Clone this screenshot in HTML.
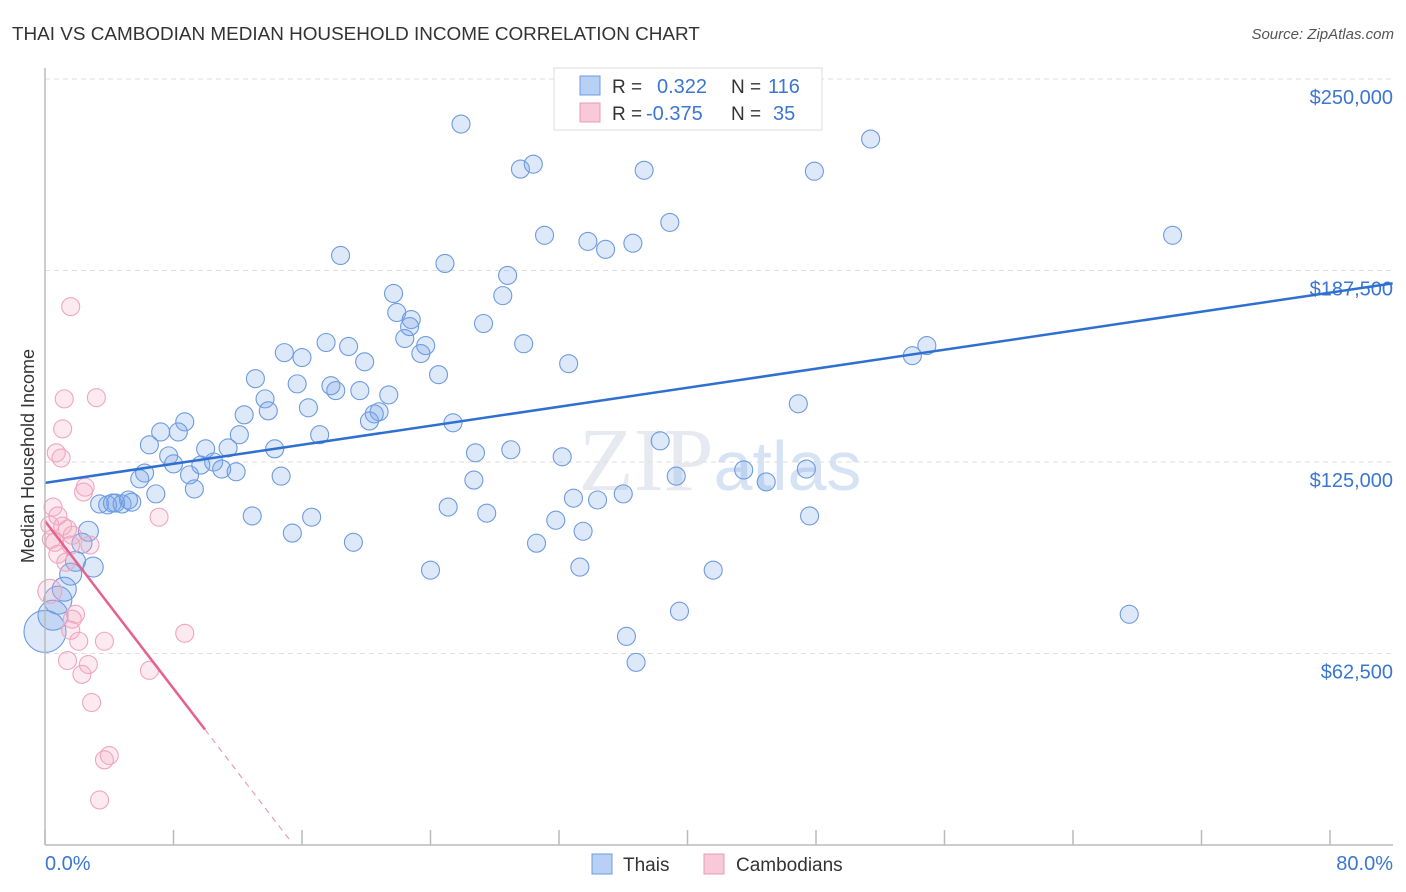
<!DOCTYPE html>
<html><head><meta charset="utf-8"><style>
body{margin:0;background:#fff;font-family:"Liberation Sans",sans-serif;}
svg{display:block}
</style></head><body>
<svg id="chart" width="1406" height="892">
<text x="12" y="40" font-size="18.9" fill="#333">THAI VS CAMBODIAN MEDIAN HOUSEHOLD INCOME CORRELATION CHART</text>
<text x="1394" y="39" font-size="15" fill="#555" font-style="italic" text-anchor="end">Source: ZipAtlas.com</text>
<text x="34" y="456" font-size="18" fill="#333" text-anchor="middle" transform="rotate(-90 34 456)">Median Household Income</text>
<text x="720" y="490" font-size="90" fill="#e6eaf0" text-anchor="middle" font-family="Liberation Serif,serif">ZIP<tspan fill="#d6e3f5" font-family="Liberation Sans,sans-serif" font-size="70">atlas</tspan></text>
<g id="grid"></g><g id="marks"></g><g id="trends"></g>
<line x1="45" y1="68" x2="45" y2="845" stroke="#bbb" stroke-width="1.5"/>
<line x1="45" y1="845" x2="1393" y2="845" stroke="#bbb" stroke-width="1.5"/>
<text x="45" y="870" font-size="20" fill="#3b76d3">0.0%</text>
<text x="1393" y="870" font-size="20" fill="#3b76d3" text-anchor="end">80.0%</text>
<g>
<rect x="554" y="68" width="268" height="62" fill="#fff" stroke="#ddd"/>
<rect x="580" y="76" width="20" height="19" fill="#b7d0f3" stroke="#6b9be0"/>
<rect x="580" y="103" width="20" height="19" fill="#f8c9d8" stroke="#ec9ab5"/>
<text x="612" y="93" font-size="19" fill="#333">R = <tspan x="657" fill="#3b76d3" font-size="20">0.322</tspan><tspan x="731" fill="#333">N =</tspan><tspan x="768" fill="#3b76d3" font-size="20">116</tspan></text>
<text x="612" y="120" font-size="19" fill="#333">R = <tspan x="646" fill="#3b76d3" font-size="20">-0.375</tspan><tspan x="731" fill="#333">N =</tspan><tspan x="773" fill="#3b76d3" font-size="20">35</tspan></text>
</g>
<g>
<rect x="592" y="854" width="20" height="20" fill="#b7d0f3" stroke="#6b9be0"/>
<text x="623" y="871" font-size="19" fill="#333">Thais</text>
<rect x="704" y="854" width="20" height="20" fill="#f8c9d8" stroke="#ec9ab5"/>
<text x="736" y="871" font-size="19" fill="#333">Cambodians</text>
</g>
</svg>
<script>
const yTicks=[62500,125000,187500,250000];
const yTickLabels=["$62,500","$125,000","$187,500","$250,000"];
const xTicks=[0,8,16,24,32,40,48,56,64,72,80];
const thaiX=[25.9,29.6,30.4,37.3,47.9,51.4,70.2,38.9,31.1,33.8,34.9,36.6,18.4,24.9,28.8,21.7,28.5,27.3,21.9,22.8,22.7,22.4,23.7,23.4,17.5,18.9,14.9,16.0,19.9,29.8,32.6,24.5,13.1,15.7,17.8,18.1,19.6,21.4,13.7,16.4,12.4,13.9,20.8,20.5,20.2,25.4,8.7,7.2,8.3,12.1,6.5,17.1,10.0,11.4,14.3,7.7,26.8,29.0,32.2,38.3,8.0,9.7,10.5,11.0,11.9,6.2,5.9,9.0,14.7,26.7,39.3,43.5,47.4,44.9,9.3,6.9,3.4,3.9,4.4,4.8,5.2,5.4,4.2,32.9,34.4,36.0,25.1,27.5,31.8,12.9,16.6,47.6,2.7,33.5,15.4,19.2,30.6,2.3,1.9,3.0,1.6,24.0,33.3,41.6,1.2,0.8,0.5,0.0,39.5,67.5,36.2,36.8,54.0,54.9,46.9];
const thaiY=[235.3,220.6,222.2,220.2,219.9,230.4,199,203.2,199,197,194.4,196.4,192.4,189.8,185.9,180,179.3,170.2,173.8,171.5,169.2,165.3,163,160.4,164,162.7,160.7,159.1,157.7,163.6,157.1,153.5,152.2,150.5,149.9,148.3,148.3,146.9,145.6,142.7,140.4,141.7,141.4,140.7,138.4,137.8,138.1,134.8,134.8,133.9,130.6,133.9,129.3,129.6,129.3,127,128,129,126.7,131.9,124.4,124,125,122.7,121.8,121.4,119.5,120.8,120.4,119.1,120.4,122.4,122.7,118.5,116.2,114.6,111.3,111,111.6,111.3,112.6,111.9,111.6,113.2,112.6,114.6,110.3,108.3,106,107.4,107,107.4,102.4,102.4,101.8,98.8,98.5,98.5,92.6,90.7,88.4,89.7,90.7,89.7,83.5,79.9,75,69.7,76.3,75.3,68.1,59.6,159.7,163,144];
const thaiR=[9,9,9,9,9,9,9,9,9,9,9,9,9,9,9,9,9,9,9,9,9,9,9,9,9,9,9,9,9,9,9,9,9,9,9,9,9,9,9,9,9,9,9,9,9,9,9,9,9,9,9,9,9,9,9,9,9,9,9,9,9,9,9,9,9,9,9,9,9,9,9,9,9,9,9,9,9,9,9,9,9,9,9,9,9,9,9,9,9,9,9,9,10,9,9,9,9,10,10,10,11,9,9,9,12,14,15,21,9,9,9,9,9,9,9];
const cambX=[1.6,1.2,3.2,1.1,0.7,1.0,2.5,2.4,7.1,0.5,0.8,0.3,1.1,1.4,0.4,0.6,1.6,1.7,2.8,0.8,1.3,0.3,1.9,1.7,1.6,2.1,3.7,8.7,1.4,2.7,2.3,6.5,2.9,4.0,3.7,3.4];
const cambY=[175.7,145.6,146,135.8,128,126.3,116.8,115.2,107,110.3,107.4,104.4,104.1,103.1,99.8,98.8,97.9,101.1,97.9,94.9,92.3,82.8,75.3,73.7,70.1,66.5,66.5,69.1,60.2,58.9,55.7,57,46.5,29.2,27.8,14.7];
const cambR=[9,9,9,9,9,9,9,9,9,9,9,9,9,9,9,9,9,9,9,9,9,12,9,9,9,9,9,9,9,9,9,9,9,9,9,9];
const blueTrend=[118.2,0.776];
const pinkTrend=[105.7,-6.83];
const pinkSolidEnd=9.96, pinkDashEnd=15.3, blueEnd=83.9;

const NS="http://www.w3.org/2000/svg";
const xS=p=>45+p*16.0625;
const yS=v=>845-v*3.064;
function mk(tag,attrs,parent){const e=document.createElementNS(NS,tag);for(const k in attrs)e.setAttribute(k,attrs[k]);parent.appendChild(e);return e;}
const grid=document.getElementById('grid'),marks=document.getElementById('marks'),trends=document.getElementById('trends');
yTicks.forEach((t,i)=>{
  const y=yS(t/1000);
  const l=mk('line',{x1:45,x2:1393,y1:y,y2:y,stroke:'#ddd','stroke-dasharray':'5,4'},grid);
  
  
  const tx=mk('text',{x:1393,y:y+25,'font-size':20,fill:'#3b76d3','text-anchor':'end'},grid);
  tx.textContent=yTickLabels[i];
  
  
});
xTicks.forEach(t=>{
  const x=xS(t);
  const l=mk('line',{x1:x,x2:x,y1:830,y2:845,stroke:'#bbb','stroke-width':1.5},grid);
  
  
});
thaiX.forEach((x,i)=>{
  const c=mk('circle',{cx:xS(x),cy:yS(thaiY[i]),r:thaiR[i],fill:'rgba(120,165,230,0.25)',stroke:'#6d9be0','stroke-width':1.1},marks);
  
  
});
cambX.forEach((x,i)=>{
  const c=mk('circle',{cx:xS(x),cy:yS(cambY[i]),r:cambR[i],fill:'rgba(245,170,195,0.25)',stroke:'#f0a5be','stroke-width':1.1},marks);
  
  
});
const bt=mk('line',{x1:xS(0),y1:yS(blueTrend[0]),x2:xS(blueEnd),y2:yS(blueTrend[0]+blueTrend[1]*blueEnd),stroke:'#2f6fd0','stroke-width':2.5},trends);


const pt=mk('line',{x1:xS(0),y1:yS(pinkTrend[0]),x2:xS(pinkSolidEnd),y2:yS(pinkTrend[0]+pinkTrend[1]*pinkSolidEnd),stroke:'#e8618e','stroke-width':2.5},trends);


const pd=mk('line',{x1:xS(pinkSolidEnd),y1:yS(pinkTrend[0]+pinkTrend[1]*pinkSolidEnd),x2:xS(pinkDashEnd),y2:yS(pinkTrend[0]+pinkTrend[1]*pinkDashEnd),stroke:'#ec9ab5','stroke-width':1.2,'stroke-dasharray':'6,5'},trends);


</script>
</body></html>
